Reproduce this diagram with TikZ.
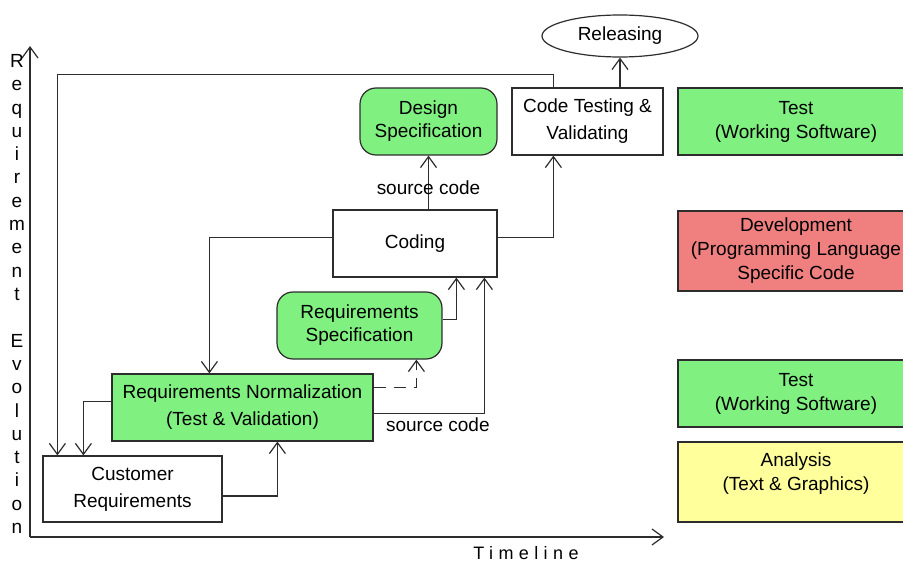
\documentclass[tikz,border=0pt]{standalone}
\usepackage{fontspec}
\setmainfont{Liberation Sans}
\usetikzlibrary{arrows.meta,shapes.geometric}
\definecolor{boxgreen}{RGB}{128,240,128}
\definecolor{boxred}{RGB}{240,128,128}
\definecolor{boxyellow}{RGB}{255,255,155}
\definecolor{linegray}{RGB}{45,45,45}
\tikzset{
  box/.style={draw=linegray, line width=1.2pt, fill=white, align=center, inner sep=0pt,
    minimum height=67pt, font=\fontsize{19}{27}\selectfont},
  spec/.style={box, fill=boxgreen, rounded corners=16pt, font=\fontsize{19}{23}\selectfont},
  layer/.style={box, minimum width=236pt, font=\fontsize{19}{24}\selectfont},
  arr/.style={draw=linegray, line width=1.2pt, -{Straight Barb[length=11pt,width=16pt,line width=1.2pt]}},
  lbl/.style={font=\fontsize{19}{23}\selectfont, inner sep=1pt},
  letter/.style={font=\fontsize{19}{23}\selectfont, inner sep=0pt, text height=13pt, text depth=4pt}
}

\begin{document}
\begin{tikzpicture}[x=1pt,y=-1pt]
   \useasboundingbox (0,0) rectangle (903,564);
   % axes
   \coordinate (o) at (30,537);
   \coordinate (ytop) at (30,46);
   \coordinate (xend) at (664,537);
   \draw[arr] (o) -- (ytop);
   \draw[arr] (o) -- (xend);
   \node[lbl, font=\fontsize{18}{22}\selectfont\addfontfeature{LetterSpace=30}] (tl) at (526,553) {Timeline};
   \foreach \ch [count=\i from 0] in {R,e,q,u,i,r,e,m,e,n,t,{},E,v,o,l,u,t,i,o,n}
     \node[letter] (v\i) at (17,63+23.3*\i) {\ch};
   % phases
   \node[draw=linegray, line width=1.2pt, ellipse, minimum width=156pt, minimum height=42pt,
     inner sep=0pt, font=\fontsize{19}{23}\selectfont] (rel) at (620,36) {Releasing};
   \node[box, minimum width=151pt] (ctv) at (587.5,121.5) {Code Testing \&\\Validating};
   \node[spec, minimum width=137pt] (ds) at (428.5,121.5) {Design\\Specification};
   \node[box, minimum width=164pt] (cod) at (415,243.5) {Coding};
   \node[spec, minimum width=165pt] (rs) at (359.5,325.5) {Requirements\\Specification};
   \node[box, fill=boxgreen, minimum width=261pt] (rn) at (242.5,407.5) {Requirements Normalization\\(Test \& Validation)};
   \node[box, minimum width=179pt, minimum height=66pt] (cr) at (132.5,489) {Customer\\Requirements};
   % legend
   \node[layer, fill=boxgreen] (t1) at (796,121.5) {Test\\(Working Software)};
   \node[layer, fill=boxred, minimum height=80pt] (dev) at (796,251) {Development\\(Programming Language\\Specific Code};
   \node[layer, fill=boxgreen] (t2) at (796,393.5) {Test\\(Working Software)};
   \node[layer, fill=boxyellow, minimum height=80pt] (ana) at (796,482) {Analysis\\(Text \& Graphics)\\[-4pt]};
   % connectors
   \draw[arr] (ctv.north -| rel.south) -- (rel.south);
   \draw[arr] ([xshift=42pt]ctv.north west) -- ++(0,-13) -| ([xshift=15pt]cr.north west);
   \draw[arr] ([yshift=6pt]cod.east) -| ([xshift=42pt]ctv.south west);
   \draw[arr] ([yshift=6pt]cod.west) -| ([xshift=98pt]rn.north west);
   \draw[arr] (cod.north -| ds.south) -- node[lbl, pos=0.4] {source code} (ds.south);
   \draw[arr] ([yshift=6pt]rs.east) -| ([xshift=124pt]cod.south west);
   \draw[arr, dash pattern=on 12pt off 8pt] ([yshift=20pt]rn.east) -| ([xshift=140pt]rs.south west);
   \draw[arr] ([yshift=-6pt]rn.east) -| node[lbl, below=3pt, pos=0.29] {source code} ([xshift=152pt]cod.south west);
   \draw[arr] ([yshift=6pt]rn.west) -| ([xshift=41pt]cr.north west);
   \draw[arr] ([yshift=-7pt]cr.east) -| ([xshift=166pt]rn.south west);
\end{tikzpicture}
\end{document}
